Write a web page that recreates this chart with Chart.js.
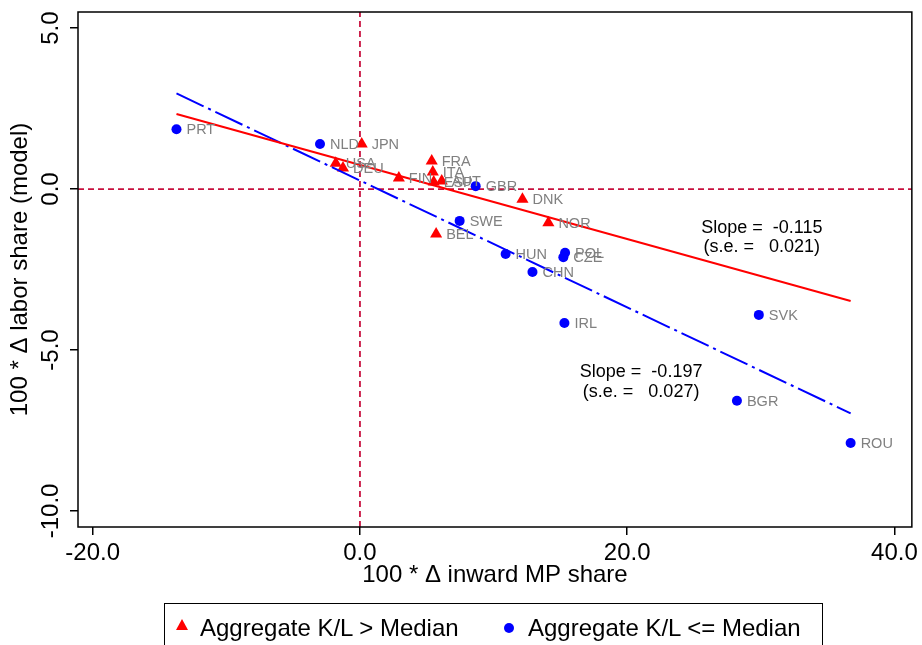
<!DOCTYPE html>
<html>
<head>
<meta charset="utf-8">
<script src="https://cdn.jsdelivr.net/npm/chart.js@4"></script>
<style>
  html, body { margin:0; padding:0; background:#fff; }
  #wrap { position:relative; width:922px; height:645px; overflow:hidden; font-family:"Liberation Sans", Arial, sans-serif; }
  #legend { position:absolute; left:164px; top:603px; width:659px; height:60px; border:1px solid #000; box-sizing:border-box; }
  .lg-text { position:absolute; top:10px; font-size:24px; line-height:28px; color:#000; white-space:nowrap; }
  .lg-tri { position:absolute; left:11px; top:15px; width:0; height:0; border-left:6px solid transparent; border-right:6px solid transparent; border-bottom:11px solid #ff0000; }
  .lg-dot { position:absolute; left:339px; top:19px; width:10px; height:10px; border-radius:50%; background:#0000ff; }
</style>
</head>
<body>
<div id="wrap">
  <canvas id="chart" width="922" height="645"></canvas>
  <div id="legend">
    <span class="lg-tri"></span><span class="lg-text" style="left:35px">Aggregate K/L &gt; Median</span>
    <span class="lg-dot"></span><span class="lg-text" style="left:363px">Aggregate K/L &lt;= Median</span>
  </div>
</div>
<script>
// K/L above median (red triangles)
const redNames = ['JPN','USA','DEU','FIN','FRA','ITA','ESP','AUT','DNK','NOR','BEL'];
const redX     = [0.13, -1.81, -1.27, 2.91, 5.37, 5.45, 5.52, 6.12, 12.16, 14.10, 5.70];
const redY     = [1.40, 0.80, 0.65, 0.34, 0.87, 0.53, 0.22, 0.25, -0.32, -1.05, -1.40];

// K/L at or below median (blue circles)
const blueNames = ['PRT','NLD','GBR','SWE','HUN','POL','CZE','CHN','IRL','SVK','BGR','ROU'];
const blueX     = [-13.73, -2.99, 8.66, 7.46, 10.90, 15.35, 15.22, 12.91, 15.30, 29.85, 28.21, 36.72];
const blueY     = [1.86, 1.40, 0.09, -0.99, -2.02, -1.98, -2.12, -2.58, -4.16, -3.91, -6.58, -7.89];

// fitted lines (end points)
const redFitX  = [-13.73, 36.72];
const redFitY  = [2.33, -3.48];
const blueFitX = [-13.73, 36.72];
const blueFitY = [2.97, -6.97];

// annotations
const fitNotes = [
  { x: 30.07, y: -1.21, text: 'Slope =  -0.115' },
  { x: 30.07, y: -1.80, text: '(s.e. =   0.021)' },
  { x: 21.04, y: -5.68, text: 'Slope =  -0.197' },
  { x: 21.04, y: -6.30, text: '(s.e. =   0.027)' }
];

const xTicks = [-20, 0, 20, 40];
const yTicks = [-10, -5, 0, 5];
const xRange = [-21.1, 41.3];
const yRange = [-10.5, 5.5];

const FONT = '"Liberation Sans", Arial, sans-serif';
const pts = (xs, ys) => xs.map((x,i)=>({x, y: ys[i]}));

const frame = {
  id: 'frame',
  afterDraw(c){
    const a = c.chartArea, g = c.ctx;
    g.save(); g.strokeStyle = '#000'; g.lineWidth = 1.5;
    g.strokeRect(a.left, a.top, a.right - a.left, a.bottom - a.top);
    g.restore();
  }
};

const pointLabels = {
  id: 'pointLabels',
  afterDatasetsDraw(c){
    const g = c.ctx, xs = c.scales.x, ys = c.scales.y;
    g.save();
    g.font = '14.5px ' + FONT; g.fillStyle = '#808080';
    g.textAlign = 'left'; g.textBaseline = 'middle';
    [[redNames, redX, redY], [blueNames, blueX, blueY]].forEach(([n, xv, yv])=>{
      n.forEach((lab,i)=> g.fillText(lab, xs.getPixelForValue(xv[i]) + 10, ys.getPixelForValue(yv[i]) + 1));
    });
    g.font = '18px ' + FONT; g.fillStyle = '#000'; g.textAlign = 'center';
    fitNotes.forEach(t => g.fillText(t.text, xs.getPixelForValue(t.x), ys.getPixelForValue(t.y)));
    g.restore();
  }
};

new Chart(document.getElementById('chart'), {
  data: {
    datasets: [
      { type:'scatter', data: pts(redX, redY), pointStyle:'triangle', pointRadius:7, backgroundColor:'#ff0000', borderColor:'#ff0000', borderWidth:0, order:3 },
      { type:'scatter', data: pts(blueX, blueY), pointStyle:'circle', pointRadius:5, backgroundColor:'#0000ff', borderColor:'#0000ff', borderWidth:0, order:3 },
      { type:'line', data: pts(redFitX, redFitY), borderColor:'#ff0000', borderWidth:2, pointRadius:0, fill:false, order:1 },
      { type:'line', data: pts(blueFitX, blueFitY), borderColor:'#0000ff', borderWidth:2, borderDash:[30,5,3,5], pointRadius:0, fill:false, order:1 },
      { type:'line', data: [{x:0, y:yRange[0]}, {x:0, y:yRange[1]}], borderColor:'#c8103e', borderWidth:1.8, borderDash:[6,4], pointRadius:0, order:5 },
      { type:'line', data: [{x:xRange[0], y:0}, {x:xRange[1], y:0}], borderColor:'#c8103e', borderWidth:1.8, borderDash:[6,4], pointRadius:0, order:5 }
    ]
  },
  options: {
    responsive:false, animation:false,
    layout:{ padding:{ left:0, top:12, right:8, bottom:45 } },
    plugins:{ legend:{display:false}, tooltip:{enabled:false} },
    scales:{
      x:{
        type:'linear', min:xRange[0], max:xRange[1],
        afterBuildTicks: s => { s.ticks = xTicks.map(v=>({value:v})); },
        afterFit: s => { s.height = 73; },
        grid:{ display:true, drawOnChartArea:false, drawTicks:true, tickLength:8, color:'#000', lineWidth:1.5 },
        border:{ display:false },
        ticks:{ color:'#000', font:{ family:FONT, size:24 }, padding:4, maxRotation:0, callback: v => v.toFixed(1) },
        title:{ display:true, text:'100 * \u0394 inward MP share', color:'#000', font:{ family:FONT, size:24 }, padding:{ top:0, bottom:10 } }
      },
      y:{
        type:'linear', min:yRange[0], max:yRange[1],
        afterBuildTicks: s => { s.ticks = yTicks.map(v=>({value:v})); },
        afterFit: s => { s.width = 78; },
        grid:{ display:true, drawOnChartArea:false, drawTicks:true, tickLength:8, color:'#000', lineWidth:1.5 },
        border:{ display:false },
        ticks:{ color:'#000', font:{ family:FONT, size:24 }, minRotation:90, maxRotation:90, crossAlign:'center', padding:-9, callback: v => v.toFixed(1) },
        title:{ display:true, text:'100 * \u0394 labor share (model)', color:'#000', font:{ family:FONT, size:24 }, padding:{ top:6, bottom:0 } }
      }
    }
  },
  plugins:[frame, pointLabels]
});
</script>
</body>
</html>
